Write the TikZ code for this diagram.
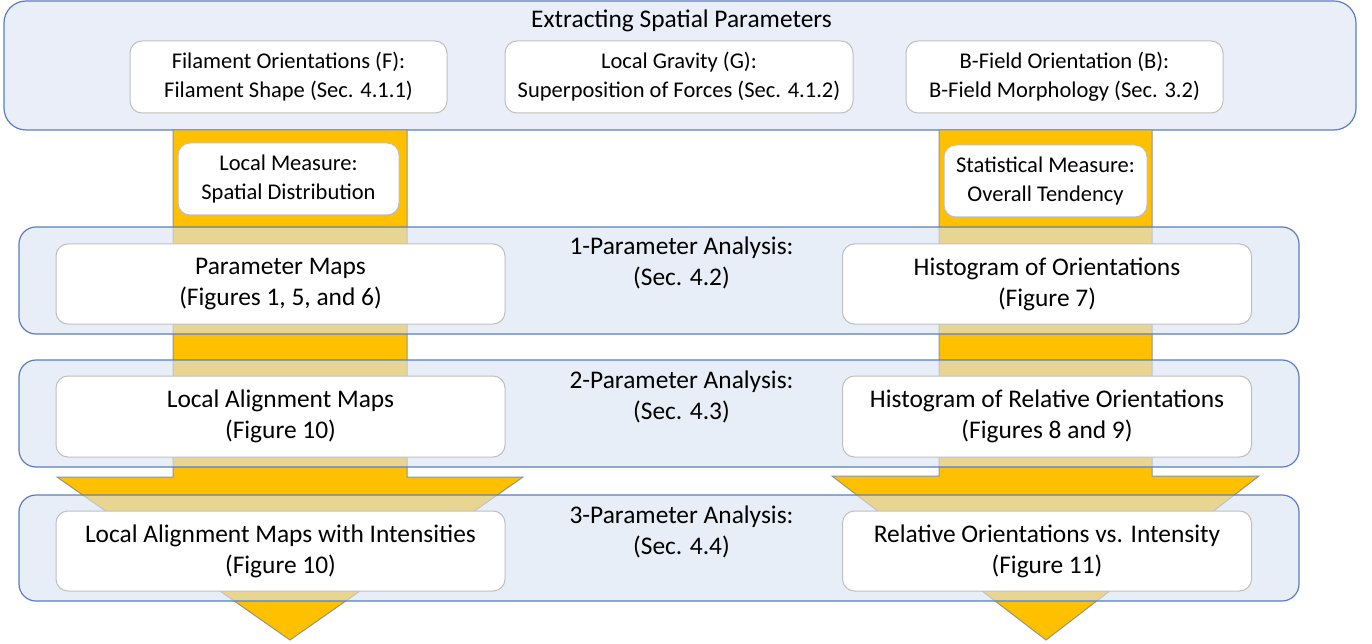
\documentclass[tikz,border=0pt]{standalone}
\usepackage{fontspec}
\setmainfont{Carlito}
\definecolor{panelfill}{HTML}{DAE3F3}
\definecolor{panelline}{HTML}{5A7EBF}
\definecolor{gold}{HTML}{FFC000}
\definecolor{arrowline}{HTML}{8A94A4}
\definecolor{boxline}{HTML}{BFBFBF}
\newcommand\bigf{\fontsize{25.4}{31}\selectfont}
\newcommand\smallf{\fontsize{22.5}{29}\selectfont}
\begin{document}
\begin{tikzpicture}[x=1pt,y=-1pt,
  panel/.style={draw=panelline, line width=1.2pt, fill=panelfill, fill opacity=0.6, draw opacity=1, rounded corners=#1, inner sep=0pt, rectangle},
  panel/.default=17pt,
  wbox/.style={draw=boxline, line width=1pt, fill=white, rounded corners=12pt, inner sep=0pt, align=center, text=black},
  smallbox/.style={wbox, font=\smallf},
  bigbox/.style={wbox, font=\bigf},
  blockarrow/.style={draw=arrowline, line width=1pt, fill=gold, line join=miter},
  lbl/.style={font=\bigf, align=center, inner sep=0pt, anchor=base}]
\useasboundingbox[fill=white] (0,0) rectangle (1372,644);

% top panel
\node[panel=22pt, fill opacity=1, fill=panelfill!60!white, minimum width=1352pt, minimum height=129pt] (top) at (680,65.5) {};
\node[lbl] (title) at (681.5,28) {Extracting Spatial Parameters};
\node[smallbox, minimum width=317pt, minimum height=72pt] (F) at (288.5,77) {Filament Orientations (F):\\Filament Shape (Sec. 4.1.1)};
\node[smallbox, minimum width=348pt, minimum height=72pt] (G) at (679,77) {Local Gravity (G):\\Superposition of Forces (Sec. 4.1.2)};
\node[smallbox, minimum width=317pt, minimum height=72pt] (B) at (1064.5,77) {B-Field Orientation (B):\\B-Field Morphology (Sec. 3.2)};

% block arrows
\draw[blockarrow] (173,130) -- (407,130) -- (407,477) -- (523,477) -- (290,640) -- (57,477) -- (173,477) -- cycle;
\draw[blockarrow] (939,130) -- (1152,130) -- (1152,476) -- (1259,476) -- (1046,640) -- (832,476) -- (939,476) -- cycle;

% measure boxes
\node[smallbox, minimum width=221pt, minimum height=72pt] (LM) at (288.5,179) {Local Measure:\\Spatial Distribution};
\node[smallbox, minimum width=203pt, minimum height=72pt] (SM) at (1045.5,181) {Statistical Measure:\\Overall Tendency};

% analysis panels
\node[panel, minimum width=1280pt, minimum height=107pt] (P1) at (659,280.5) {};
\node[panel, minimum width=1280pt, minimum height=107pt] (P2) at (659,413.5) {};
\node[panel, minimum width=1280pt, minimum height=106pt] (P3) at (659,548) {};

\node[lbl] (L1) at (681.5,285) {1-Parameter Analysis:\\(Sec. 4.2)};
\node[lbl] (L2) at (681.5,419) {2-Parameter Analysis:\\(Sec. 4.3)};
\node[lbl] (L3) at (681.5,554) {3-Parameter Analysis:\\(Sec. 4.4)};

\node[bigbox, minimum width=449pt, minimum height=80pt] (A1) at (280.5,284) {Parameter Maps\\(Figures 1, 5, and 6)};
\node[bigbox, minimum width=409pt, minimum height=80pt] (B1) at (1047,284) {Histogram of Orientations\\(Figure 7)};
\node[bigbox, minimum width=449pt, minimum height=81pt] (A2) at (280.5,416.5) {Local Alignment Maps\\(Figure 10)};
\node[bigbox, minimum width=409pt, minimum height=81pt] (B2) at (1047,416.5) {Histogram of Relative Orientations\\(Figures 8 and 9)};
\node[bigbox, minimum width=449pt, minimum height=80pt] (A3) at (280.5,551) {Local Alignment Maps with Intensities\\(Figure 10)};
\node[bigbox, minimum width=409pt, minimum height=80pt] (B3) at (1047,551) {Relative Orientations vs. Intensity\\(Figure 11)};
\end{tikzpicture}
\end{document}
